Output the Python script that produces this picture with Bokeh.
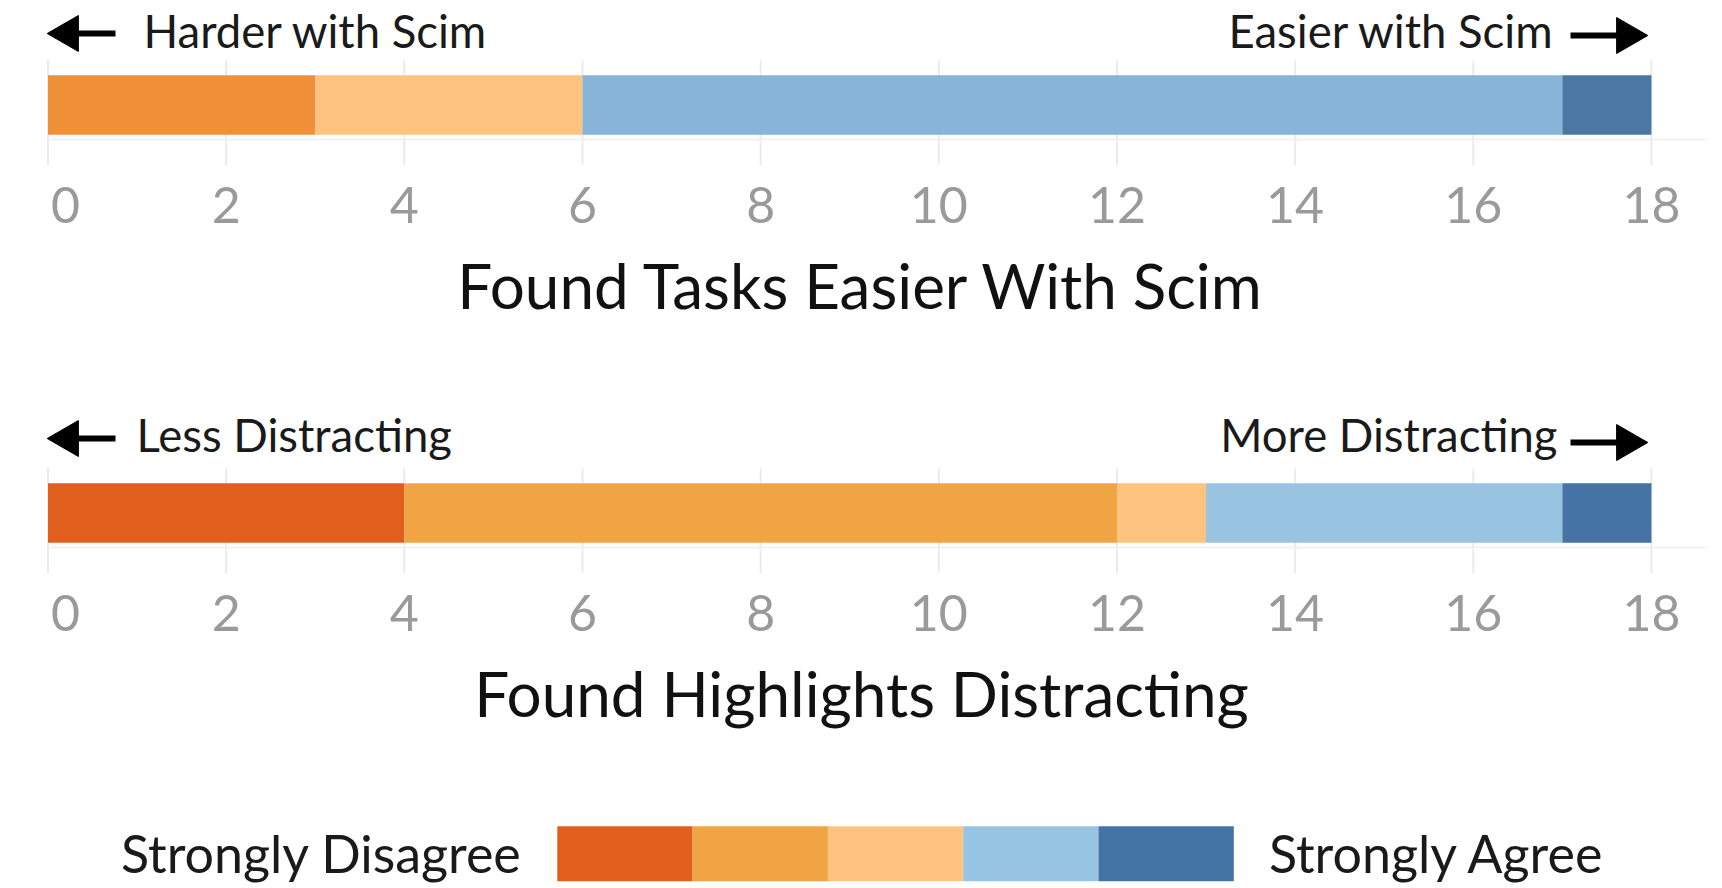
from bokeh.plotting import figure
from bokeh.layouts import column
from bokeh.models import Range1d, FixedTicker
from bokeh.core.properties import value
from bokeh.embed import file_html
from bokeh.resources import INLINE
import numpy as np

# ---------------- data ----------------
categories = ["Strongly Disagree", "Disagree", "Neutral", "Agree", "Strongly Agree"]
tasks_easier = [0, 3, 3, 11, 1]            # Found Tasks Easier With Scim
highlights_distracting = [4, 8, 1, 4, 1]   # Found Highlights Distracting
tick_values = [0, 2, 4, 6, 8, 10, 12, 14, 16, 18]

chart1_title = "Found Tasks Easier With Scim"
chart1_left = "Harder with Scim"
chart1_right = "Easier with Scim"
chart2_title = "Found Highlights Distracting"
chart2_left = "Less Distracting"
chart2_right = "More Distracting"
legend_left = "Strongly Disagree"
legend_right = "Strongly Agree"

# ---------------- styles ----------------
FONT = "Lato"
colors_chart1 = ["#E05F1D", "#F0913A", "#FFC381", "#86B5D7", "#4A77A4"]
colors_chart2 = ["#E05F1D", "#F0A443", "#FFC380", "#98C4E2", "#4573A5"]
colors_legend = ["#E05F1D", "#F0A443", "#FFC37F", "#98C4E4", "#4473A5"]

W = 1722
X0_PX = 47.5            # pixel of value 0
PX_PER_UNIT = 89.08     # pixels per count unit


def px(x):
    return (x - X0_PX) / PX_PER_UNIT


def make_chart(counts, colors, title, left_txt, right_txt, txt_base, larrow_y, rarrow_y,
               left_txt_px, right_txt_px):
    p = figure(width=W, height=408, output_backend="svg", toolbar_location=None,
               x_range=Range1d(px(0), px(W)), y_range=Range1d(165, 0),
               y_axis_location=None, min_border_left=0, min_border_right=0,
               min_border_top=0, min_border_bottom=243)
    p.outline_line_color = None
    p.background_fill_color = "white"
    p.border_fill_color = "white"
    p.grid.visible = False

    # faint grid lines (vertical) and baseline
    p.segment(x0=tick_values, x1=tick_values, y0=[60] * len(tick_values),
              y1=[165] * len(tick_values), line_color="#ebebeb", line_width=2)
    p.segment(x0=[0], x1=[px(1707)], y0=[139], y1=[139], line_color="#f2f2f2", line_width=2)

    # stacked bar
    c = np.array(counts, dtype=float)
    rights = np.cumsum(c)
    lefts = rights - c
    keep = c > 0
    p.hbar(y=[104.5] * int(keep.sum()), height=59.5,
           left=list(lefts[keep]), right=list(rights[keep]),
           fill_color=[col for col, k in zip(colors, keep) if k], line_color=None)

    # axis
    ax = p.xaxis[0]
    ax.ticker = FixedTicker(ticks=tick_values)
    ax.major_label_overrides = {0: "\u2007\u20090"}
    ax.axis_line_color = None
    ax.major_tick_line_color = None
    ax.minor_tick_line_color = None
    ax.major_label_text_font = FONT
    ax.major_label_text_font_size = "50px"
    ax.major_label_text_color = "#9a9a9a"
    ax.major_label_standoff = 2
    ax.axis_label = title
    ax.axis_label_text_font = FONT
    ax.axis_label_text_font_size = "62px"
    ax.axis_label_text_font_style = "normal"
    ax.axis_label_text_color = "#111111"
    ax.axis_label_standoff = 11

    # arrows with labels
    p.segment(x0=[px(68)], x1=[px(115)], y0=[larrow_y], y1=[larrow_y],
              line_color="black", line_width=6)
    p.scatter(x=[px(67.5)], y=[larrow_y], marker="triangle", size=36, angle=np.pi / 2,
              fill_color="black", line_color="black")
    p.segment(x0=[px(1570)], x1=[px(1626)], y0=[rarrow_y], y1=[rarrow_y],
              line_color="black", line_width=6)
    p.scatter(x=[px(1626.5)], y=[rarrow_y], marker="triangle", size=36, angle=-np.pi / 2,
              fill_color="black", line_color="black")
    p.text(x=[px(left_txt_px)], y=[txt_base], text=[left_txt], text_font=value(FONT),
           text_font_size="45.5px", text_color="#1a1a1a", text_baseline="alphabetic",
           text_align="left")
    p.text(x=[px(right_txt_px)], y=[txt_base], text=[right_txt], text_font=value(FONT),
           text_font_size="45.5px", text_color="#1a1a1a", text_baseline="alphabetic",
           text_align="right")
    return p


p1 = make_chart(tasks_easier, colors_chart1, chart1_title, chart1_left, chart1_right,
                30, 33, 35, 143, 1554)
p2 = make_chart(highlights_distracting, colors_chart2, chart2_title, chart2_left, chart2_right,
                25.5, 30, 34, 136, 1557)

# ---------------- legend ----------------
pl = figure(width=W, height=72, output_backend="svg", toolbar_location=None,
            x_range=Range1d(0, W), y_range=Range1d(72, 0),
            x_axis_location=None, y_axis_location=None,
            min_border_left=0, min_border_right=0, min_border_top=0, min_border_bottom=0)
pl.outline_line_color = None
pl.grid.visible = False
pl.background_fill_color = "white"
pl.border_fill_color = "white"
box_w = 135.3
box_x0 = 556.8
lefts_l = [box_x0 + i * box_w for i in range(len(categories))]
rights_l = [l + box_w for l in lefts_l]
pl.quad(left=lefts_l, right=rights_l, top=[9.8] * len(categories), bottom=[64.8] * len(categories),
        fill_color=colors_legend, line_color=None)
pl.text(x=[521.6], y=[36], text=[legend_left], text_font=value(FONT), text_font_size="52px",
        text_color="#1a1a1a", text_align="right", text_baseline="alphabetic")
pl.text(x=[1268.4], y=[36], text=[legend_right], text_font=value(FONT), text_font_size="52px",
        text_color="#1a1a1a", text_align="left", text_baseline="alphabetic")

layout = column(p1, p2, pl, spacing=0)
open("out.html", "w").write(file_html(layout, INLINE))
